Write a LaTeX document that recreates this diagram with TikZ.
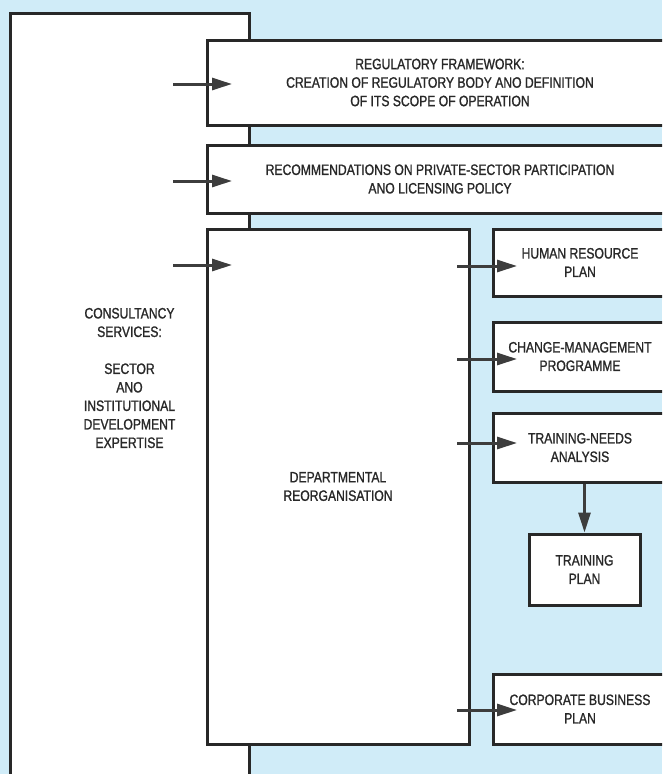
\documentclass[tikz,border=0pt]{standalone}
\usepackage{fontspec}
\setmainfont{Liberation Sans}[FakeStretch=0.81, FakeBold=1.2]
\usetikzlibrary{arrows.meta}
\definecolor{paper}{RGB}{208,236,248}
\definecolor{ink}{RGB}{40,40,40}
\newcommand{\boxfont}{\fontsize{15}{18.5}\selectfont}
\tikzset{
  box/.style={draw=ink, line width=3pt, fill=white, inner sep=0pt,
              align=center, font=\boxfont, text=ink},
  label text/.style={align=center, font=\boxfont, text=ink, inner sep=0pt},
  arr/.style={draw=ink!90, line width=3pt,
              -{Triangle[length=20pt,width=12pt]}},
}
\begin{document}
\begin{tikzpicture}[x=1pt,y=-1pt]
  \useasboundingbox (0,0) rectangle (662,774);
  \clip (0,0) rectangle (662,774);
  \fill[paper] (0,0) rectangle (662,774);

  % consultancy column (runs off the bottom edge)
  \node[box, minimum width=239pt, minimum height=787pt] (consult) at (129.5,406.5) {};
  \node[label text] (consultTxt) at (129.5,378)
    {CONSULTANCY\\SERVICES:\\[18.5pt]SECTOR\\ANO\\INSTITUTIONAL\\DEVELOPMENT\\EXPERTISE};

  % policy boxes (run off the right edge)
  \node[box, minimum width=466pt, minimum height=85pt] (reg) at (440,82.5)
    {REGULATORY FRAMEWORK:\\CREATION OF REGULATORY BODY ANO DEFINITION\\OF ITS SCOPE OF OPERATION};
  \node[box, minimum width=466pt, minimum height=68pt] (rec) at (440,179)
    {RECOMMENDATIONS ON PRIVATE-SECTOR PARTICIPATION\\ANO LICENSING POLICY};

  % departmental reorganisation and its outputs
  \node[box, minimum width=262pt, minimum height=515pt] (dept) at (338,486.5)
    {DEPARTMENTAL\\REORGANISATION};
  \node[box, minimum width=174pt, minimum height=67pt] (hr) at (580,262.5)
    {HUMAN RESOURCE\\PLAN};
  \node[box, minimum width=174pt, minimum height=69pt] (chg) at (580,356.5)
    {CHANGE-MANAGEMENT\\PROGRAMME};
  \node[box, minimum width=174pt, minimum height=69pt] (tna) at (580,447.5)
    {TRAINING-NEEDS\\ANALYSIS};
  \node[box, minimum width=111pt, minimum height=71pt] (tp) at (584.5,569.5)
    {TRAINING\\PLAN};
  \node[box, minimum width=174pt, minimum height=70pt] (cbp) at (580,709)
    {CORPORATE BUSINESS\\PLAN};

  % inputs from the consultancy column
  \coordinate (inRegA) at (173,84);   \coordinate (inRegB) at (232,84);
  \coordinate (inRecA) at (173,181);  \coordinate (inRecB) at (232,181);
  \coordinate (inDepA) at (173,265);  \coordinate (inDepB) at (232,265);
  \draw[arr] (inRegA) -- (inRegB);
  \draw[arr] (inRecA) -- (inRecB);
  \draw[arr] (inDepA) -- (inDepB);

  % outputs of the reorganisation
  \coordinate (outHrA) at (457,266);  \coordinate (outHrB) at (517,266);
  \coordinate (outChA) at (457,359);  \coordinate (outChB) at (517,359);
  \coordinate (outTnA) at (457,443);  \coordinate (outTnB) at (517,443);
  \coordinate (outCbA) at (457,710);  \coordinate (outCbB) at (517,710);
  \draw[arr] (outHrA) -- (outHrB);
  \draw[arr] (outChA) -- (outChB);
  \draw[arr] (outTnA) -- (outTnB);
  \draw[arr] (outCbA) -- (outCbB);

  % needs analysis feeds the training plan
  \draw[arr] (tna.south -| tp.north) -- (tp.north);
\end{tikzpicture}
\end{document}
